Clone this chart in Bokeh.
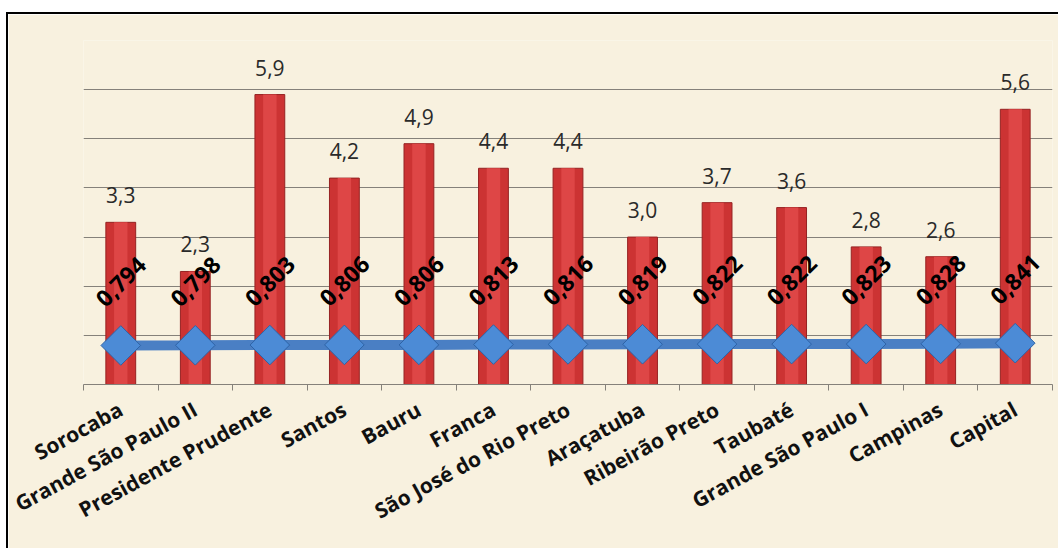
import math
from bokeh.plotting import figure
from bokeh.models import ColumnDataSource, FixedTicker, Spacer, Column, Row
from bokeh.core.properties import value
from bokeh.embed import file_html
from bokeh.resources import INLINE

regions = ["Sorocaba", "Grande São Paulo II", "Presidente Prudente", "Santos", "Bauru",
           "Franca", "São José do Rio Preto", "Araçatuba", "Ribeirão Preto", "Taubaté",
           "Grande São Paulo I", "Campinas", "Capital"]
bar_values = [3.3, 2.3, 5.9, 4.2, 4.9, 4.4, 4.4, 3.0, 3.7, 3.6, 2.8, 2.6, 5.6]
idh_values = [0.794, 0.798, 0.803, 0.806, 0.806, 0.813, 0.816, 0.819, 0.822, 0.822, 0.823, 0.828, 0.841]

xs = list(range(len(regions)))
src = ColumnDataSource(dict(
    x=xs,
    bar=bar_values,
    idh=idh_values,
    bar_lbl=[f"{v:.1f}".replace(".", ",") for v in bar_values],
    idh_lbl=[f"{v:.3f}".replace(".", ",") for v in idh_values],
))

CREAM = "#F8F1DF"
p = figure(width=1052, height=536, output_backend="svg", toolbar_location=None,
           x_range=(-0.5, len(regions) - 0.5), y_range=(0, 7),
           background_fill_color=CREAM, border_fill_color=CREAM,
           min_border_left=75, min_border_right=8, min_border_top=26, min_border_bottom=166)
p.outline_line_color = None
p.yaxis.visible = False
p.xgrid.grid_line_color = None
p.ygrid.ticker = FixedTicker(ticks=[1, 2, 3, 4, 5, 6, 7])
p.ygrid.grid_line_color = "#85817a"
p.ygrid.grid_line_width = 1

ax = p.xaxis[0]
ax.ticker = FixedTicker(ticks=xs, minor_ticks=[i - 0.5 for i in range(len(regions) + 1)])
ax.major_label_overrides = {i: r for i, r in zip(xs, regions)}
ax.major_tick_out = 0
ax.major_tick_in = 0
ax.minor_tick_out = 6
ax.minor_tick_in = 0
ax.minor_tick_line_color = "#85817a"
ax.axis_line_color = "#85817a"
ax.major_label_orientation = 0.5
ax.major_label_standoff = 17
ax.major_label_text_font = "Open Sans"
ax.major_label_text_font_style = "bold"
ax.major_label_text_font_size = "21px"
ax.major_label_text_color = "#111111"

p.vbar(x="x", top="bar", width=0.4, source=src, fill_color="#CC3333", line_color="#962222", line_width=1)
p.vbar(x="x", top="bar", width=0.18, source=src, fill_color="#DE4646", line_color=None)

p.line(x="x", y="idh", source=src, line_width=10, line_color="#4A7FC4")
p.scatter(x="x", y="idh", source=src, marker="square", size=28, angle=math.pi / 4,
          fill_color="#4C8BD6", line_color="#2E63A6", line_width=1)

p.text(x="x", y="bar", text="bar_lbl", source=src, text_align="center", text_baseline="middle",
       y_offset=-27, text_font=value("Open Sans"), text_font_size="21px", text_color="#2a2a2a")
p.text(x="x", y="idh", text="idh_lbl", source=src, text_align="center", text_baseline="middle",
       y_offset=-64, angle=math.pi / 4, text_font=value("Open Sans"), text_font_style="bold",
       text_font_size="23px", text_color="#000000")

p.styles = {"border-top": "2px solid #000", "border-left": "2px solid #000"}

layout = Column(Spacer(height=12), Row(Spacer(width=6), p))
open("out.html", "w").write(file_html(layout, INLINE))
